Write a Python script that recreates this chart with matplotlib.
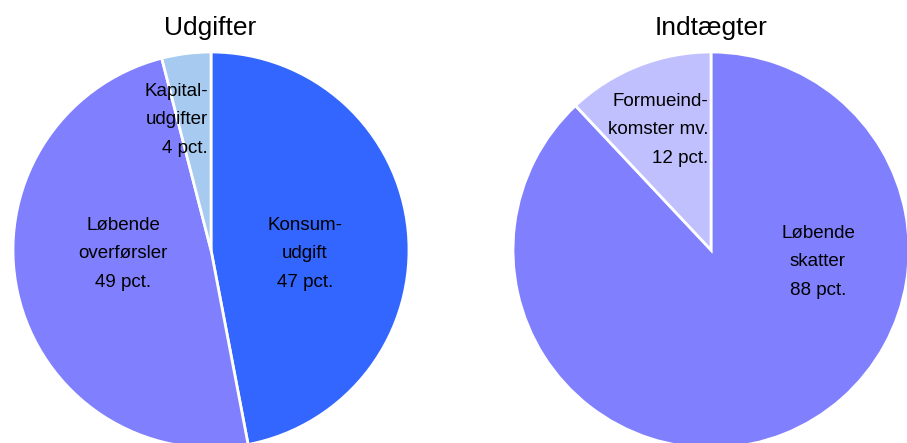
import matplotlib
matplotlib.use('Agg')
import matplotlib.pyplot as plt

plt.rcParams['font.family'] = ['Liberation Sans Narrow', 'Liberation Sans', 'DejaVu Sans']

# Udgifter (med uret fra toppen)
udg_labels = ['Konsum-\nudgift\n47 pct.', 'Løbende\noverførsler\n49 pct.', 'Kapital-\nudgifter\n4 pct.']
udg_values = [47, 49, 4]
udg_colors = ['#3366FF', '#8080FF', '#A6CAF0']

# Indtægter
ind_labels = ['Løbende\nskatter\n88 pct.', 'Formueind-\nkomster mv.\n12 pct.']
ind_values = [88, 12]
ind_colors = ['#8080FF', '#C0C0FF']

W, H = 907, 443
fig = plt.figure(figsize=(W / 100, H / 100), dpi=100)


def pie_axes(cx, cy, r):
    return fig.add_axes([(cx - r) / W, (H - cy - r) / H, 2 * r / W, 2 * r / H])


def label_pos(cx, cy, r, px, py):
    return (px - cx) / r, (cy - py) / r


# venstre cirkel
cx1, cy1, r1 = 211, 250, 198
ax1 = pie_axes(cx1, cy1, r1)
ax1.pie(udg_values, colors=udg_colors, startangle=90, counterclock=False,
        wedgeprops=dict(edgecolor='white', linewidth=2))
ax1.set_xlim(-1, 1)
ax1.set_ylim(-1, 1)
ax1.set_axis_off()
pos1 = [(305, 254, 'center'), (123, 254, 'center'), (208, 120, 'right')]
for lab, (px, py, ha) in zip(udg_labels, pos1):
    x, y = label_pos(cx1, cy1, r1, px, py)
    ax1.text(x, y, lab, ha=ha, va='center', fontsize=13.5, linespacing=1.85)

# højre cirkel
cx2, cy2, r2 = 711, 250, 198
ax2 = pie_axes(cx2, cy2, r2)
ax2.pie(ind_values, colors=ind_colors, startangle=90, counterclock=False,
        wedgeprops=dict(edgecolor='white', linewidth=2))
ax2.set_xlim(-1, 1)
ax2.set_ylim(-1, 1)
ax2.set_axis_off()
pos2 = [(818, 262, 'center'), (708, 130, 'right')]
for lab, (px, py, ha) in zip(ind_labels, pos2):
    x, y = label_pos(cx2, cy2, r2, px, py)
    ax2.text(x, y, lab, ha=ha, va='center', fontsize=13.5, linespacing=1.85)

fig.text(210 / W, 1 - 28 / H, 'Udgifter', ha='center', va='center', fontsize=19)
fig.text(711 / W, 1 - 28 / H, 'Indtægter', ha='center', va='center', fontsize=19)

fig.savefig('out.png', dpi=100)
